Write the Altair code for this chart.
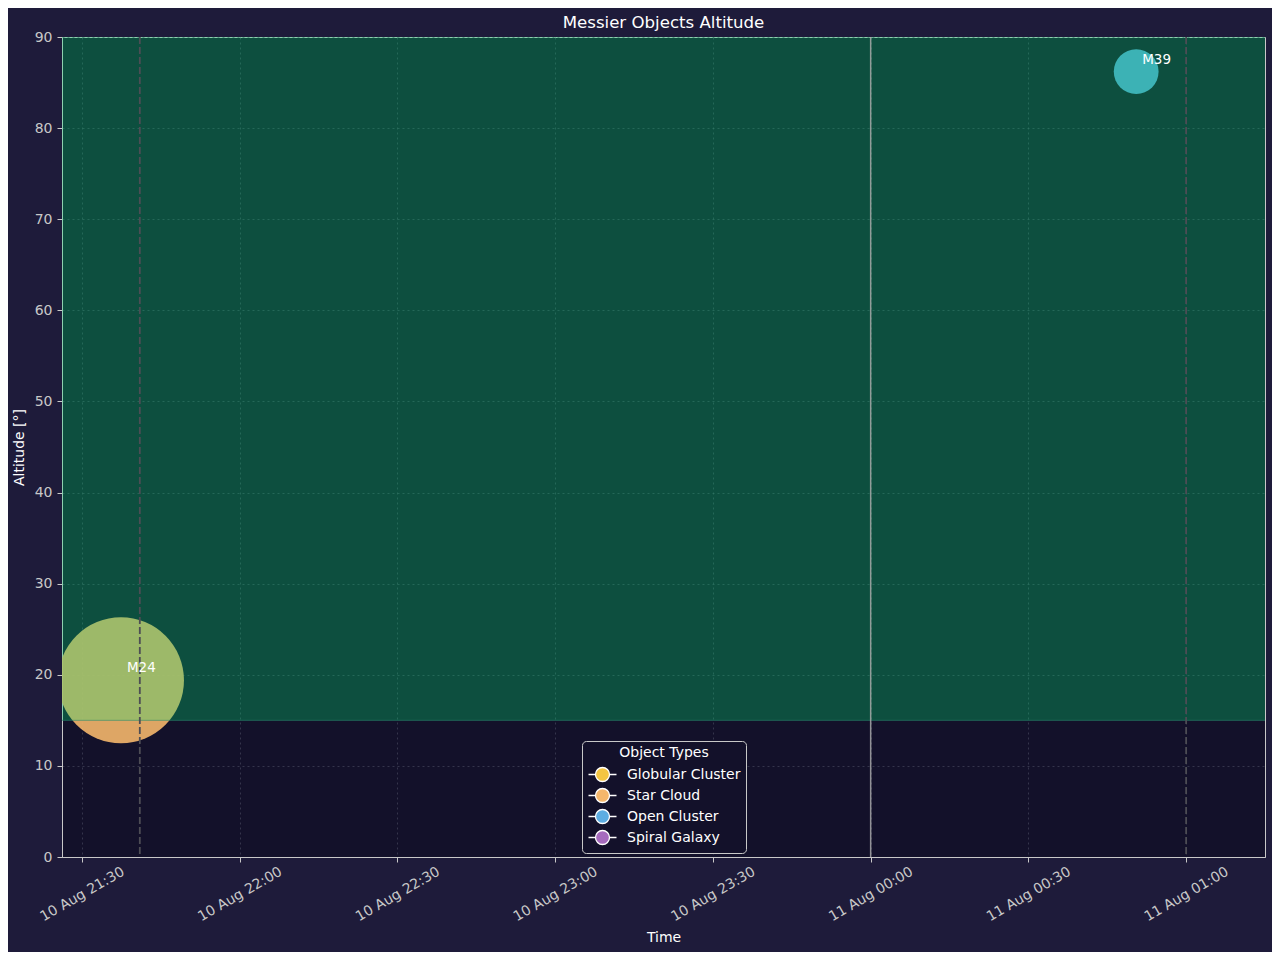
import altair as alt
import pandas as pd

# ---- data ----
object_names = ["M24", "M39"]
object_types = ["Star Cloud", "Open Cluster"]
object_times = ["2024-08-10T21:37:25Z", "2024-08-11T00:50:30Z"]
object_altitudes = [19.4, 86.2]
object_sizes = [90, 32]  # apparent size (arcmin)

type_names = ["Globular Cluster", "Star Cloud", "Open Cluster", "Spiral Galaxy"]
type_colors = ["#f4c542", "#f5b76c", "#5dade2", "#a66bbe"]

twilight_times = ["2024-08-10T21:41:00Z", "2024-08-11T01:00:00Z"]
midnight_times = ["2024-08-11T00:00:00Z"]
min_altitude = [15]
max_altitude = [90]

# x tick positions (day, hour, minute)
tick_days = [10, 10, 10, 10, 10, 11, 11, 11]
tick_hours = [21, 22, 22, 23, 23, 0, 0, 1]
tick_minutes = [30, 0, 30, 0, 30, 0, 30, 0]

W, H = 1203, 820

objects = pd.DataFrame({
    "name": object_names,
    "type": object_types,
    "time": object_times,
    "alt": object_altitudes,
    "size": object_sizes,
})
twilight = pd.DataFrame({"time": twilight_times})
midnight = pd.DataFrame({"time": midnight_times})
band = pd.DataFrame({"lo": min_altitude, "hi": max_altitude})

tick_values = [
    alt.DateTime(year=2024, month=8, date=d, hours=h, minutes=m, utc=True)
    for d, h, m in zip(tick_days, tick_hours, tick_minutes)
]

x_scale = alt.Scale(
    type="utc",
    domain=[
        alt.DateTime(year=2024, month=8, date=10, hours=21, minutes=26, seconds=12, utc=True),
        alt.DateTime(year=2024, month=8, date=11, hours=1, minutes=15, seconds=0, utc=True),
    ],
)
y_scale = alt.Scale(domain=[0, 90], nice=False, zero=False)

x_enc = alt.X(
    "time:T",
    scale=x_scale,
    axis=alt.Axis(
        title="Time",
        format="%d %b %H:%M",
        values=tick_values,
        labelAngle=-30,
        labelAlign="center",
        labelBaseline="middle",
        labelPadding=32,
        titlePadding=7,
    ),
)
y_enc = alt.Y(
    "alt:Q",
    scale=y_scale,
    axis=alt.Axis(
        title="Altitude [°]",
        values=list(range(0, 91, 10)),
        labelPadding=5,
        titlePadding=8,
    ),
)

# legend marker: circle with a short line on each side
legend_symbol = "M-1.436,0L-0.718,0M0.718,0L1.436,0M0.718,0A0.718,0.718,0,1,1,-0.718,0A0.718,0.718,0,1,1,0.718,0Z"

points = alt.Chart(objects).mark_circle(opacity=0.9, clip=True).encode(
    x=x_enc,
    y=y_enc,
    size=alt.Size(
        "size:Q",
        scale=alt.Scale(type="pow", exponent=2, domain=[0, 90], range=[0, 15876]),
        legend=None,
    ),
    color=alt.Color(
        "type:N",
        scale=alt.Scale(domain=type_names, range=type_colors),
        legend=alt.Legend(
            title="Object Types",
            orient="none",
            legendX=520,
            legendY=704,
            fillColor="#13112a",
            strokeColor="#c8c8c8",
            cornerRadius=4,
            padding=5,
            titleColor="white",
            titleFontSize=14,
            titleFontWeight="normal",
            titleAnchor="middle",
            titlePadding=4,
            labelColor="white",
            labelFontSize=14,
            symbolType=legend_symbol,
            symbolSize=380,
            symbolOffset=5,
            symbolStrokeColor="white",
            symbolStrokeWidth=1.3,
            symbolOpacity=1,
            rowPadding=0,
            labelOffset=14,
        ),
    ),
)

band_layer = alt.Chart(band).mark_rect(color="#00e676", opacity=0.29).encode(
    x=alt.value(0),
    x2=alt.value(W),
    y=alt.Y("lo:Q", scale=y_scale),
    y2="hi:Q",
)

band_edge = alt.Chart(band).mark_rule(color="#2a8a70", opacity=0.6, strokeWidth=1).encode(
    x=alt.value(0),
    x2=alt.value(W),
    y=alt.Y("lo:Q", scale=y_scale),
)

twilight_layer = alt.Chart(twilight).mark_rule(
    color="#4d4d55", strokeDash=[7, 3], strokeWidth=1.8
).encode(x=alt.X("time:T", scale=x_scale))

midnight_layer = alt.Chart(midnight).mark_rule(
    color="#aaaaaa", strokeWidth=1.5, opacity=0.85
).encode(x=alt.X("time:T", scale=x_scale))

labels = alt.Chart(objects).mark_text(
    align="left", baseline="middle", dx=6, dy=-12, color="white", fontSize=13.5
).encode(x=alt.X("time:T", scale=x_scale), y=alt.Y("alt:Q", scale=y_scale), text="name:N")

chart = alt.layer(
    points, band_layer, band_edge, midnight_layer, twilight_layer, labels
).properties(
    width=W,
    height=H,
    title=alt.TitleParams(
        "Messier Objects Altitude", color="white", fontSize=16.6, fontWeight="normal",
        offset=3, dy=5
    ),
    autosize=alt.AutoSizeParams(type="none"),
    padding={"left": 54, "top": 29, "right": 7, "bottom": 95},
    background="#1e1b3a",
).configure(
    font="DejaVu Sans",
).configure_view(
    fill="#13112a", stroke="#c8c8c8", strokeWidth=1
).configure_axis(
    domainColor="#c8c8c8",
    tickColor="#c8c8c8",
    tickSize=5,
    labelColor="#c8c8c8",
    titleColor="white",
    labelFontSize=14,
    titleFontSize=14,
    titleFontWeight="normal",
    gridColor="#4a4a60",
    gridOpacity=0.8,
    gridDash=[2, 3],
    gridWidth=0.8,
    zindex=1,
)

chart.save("out.html", embed_options={"renderer": "svg", "actions": False})
